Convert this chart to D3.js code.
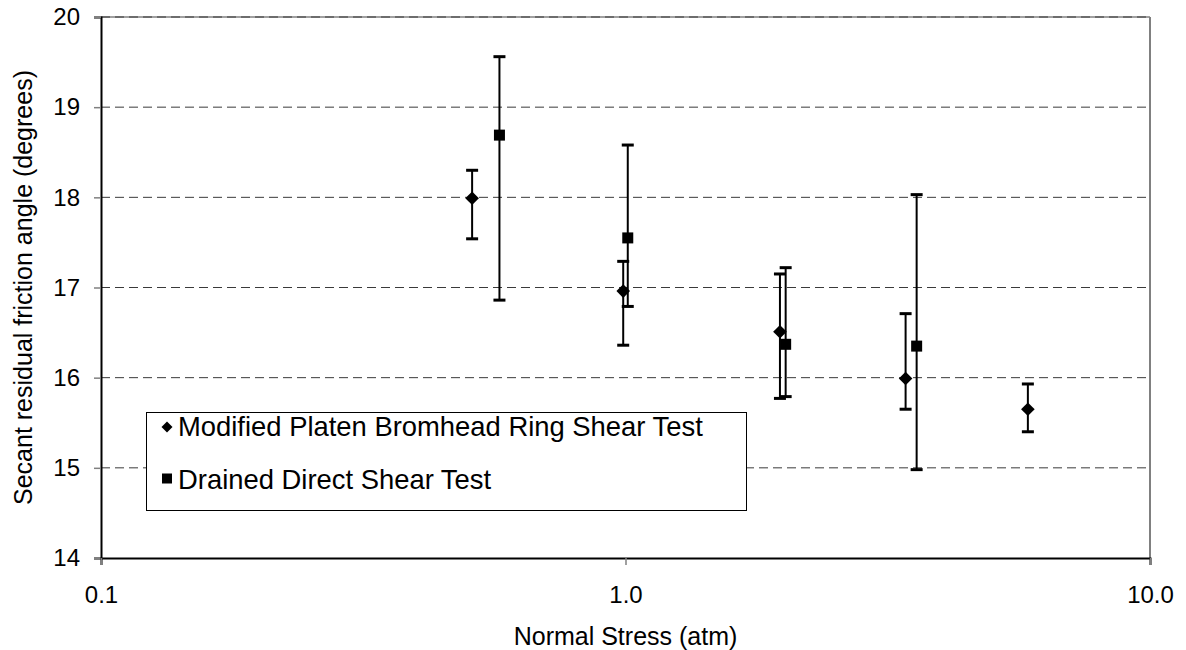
<!DOCTYPE html>
<html><head><meta charset="utf-8">
<script src="https://cdn.jsdelivr.net/npm/d3@7/dist/d3.min.js"></script>
<style>
body{margin:0;background:#fff;}
text{font-family:"Liberation Sans",Arial,sans-serif;fill:#000;}
</style></head>
<body><svg id="chart" width="1186" height="650"></svg>
<script>
// Modified Platen Bromhead Ring Shear Test
const ringX    = [0.51, 0.99, 1.97, 3.42, 5.85];
const ringY    = [17.99, 16.96, 16.51, 15.99, 15.65];
const ringHi   = [18.30, 17.29, 17.15, 16.71, 15.93];
const ringLo   = [17.54, 16.36, 15.77, 15.65, 15.40];
// Drained Direct Shear Test
const dsX      = [0.575, 1.01, 2.02, 3.59];
const dsY      = [18.69, 17.55, 16.37, 16.35];
const dsHi     = [19.56, 18.58, 17.22, 18.03];
const dsLo     = [16.86, 16.79, 15.79, 14.98];
const xTicks   = [0.1, 1, 10];
const yTicks   = [14, 15, 16, 17, 18, 19, 20];
const seriesNames = ["Modified Platen Bromhead Ring Shear Test", "Drained Direct Shear Test"];

const FONT = "Liberation Sans, Arial, sans-serif";
const svg = d3.select("#chart");
const L = 101, R = 1150, T = 17, B = 558;
const x = d3.scaleLog().domain([0.1, 10]).range([L, R]);
const y = d3.scaleLinear().domain([14, 20]).range([B, T]);

// frame right/top (gray)
svg.append("line").attr("x1", R).attr("x2", R).attr("y1", T).attr("y2", B)
  .attr("stroke", "#808080").attr("stroke-width", 2);
svg.append("line").attr("x1", L).attr("x2", R).attr("y1", T).attr("y2", T)
  .attr("stroke", "#808080").attr("stroke-width", 1.5);

// gridlines
svg.append("g").selectAll("line").data(yTicks.filter(d => d > 14)).join("line")
  .attr("x1", L).attr("x2", R).attr("y1", d => y(d)).attr("y2", d => y(d))
  .attr("stroke", "#3a3a3a").attr("stroke-width", 1).attr("stroke-dasharray", "9,5");

// axes
const yAxis = d3.axisLeft(y).tickValues(yTicks).tickSize(7).tickPadding(14).tickFormat(d3.format("d"));
const gy = svg.append("g").attr("transform", `translate(${L},0)`).call(yAxis);
gy.select(".domain").attr("stroke", "#000").attr("stroke-width", 2);
gy.selectAll(".tick line").attr("stroke", "#808080").attr("stroke-width", 1.5);
gy.selectAll(".tick text").attr("font-size", 24).attr("font-family", FONT);

const xAxis = d3.axisBottom(x).tickValues(xTicks).tickSize(7).tickPadding(21).tickFormat(d3.format(".1f"));
const gx = svg.append("g").attr("transform", `translate(0,${B})`).call(xAxis);
gx.select(".domain").attr("stroke", "#000").attr("stroke-width", 2);
gx.selectAll(".tick line").attr("stroke", "#808080").attr("stroke-width", 1.5);
gx.selectAll(".tick text").attr("font-size", 24).attr("font-family", FONT);

// titles
svg.append("text").attr("x", x(1)).attr("y", 645).attr("text-anchor", "middle")
  .attr("font-size", 25).text("Normal Stress (atm)");
svg.append("text").attr("transform", `translate(32,${(T + B) / 2}) rotate(-90)`).attr("text-anchor", "middle")
  .attr("font-size", 25).text("Secant residual friction angle (degrees)");

// error bars
function errBars(xs, ys, his, los) {
  const g = svg.append("g");
  const data = xs.map((d, i) => ({x: d, y: ys[i], hi: his[i], lo: los[i]}));
  g.selectAll("line.v").data(data).join("line").attr("class", "v")
    .attr("x1", d => x(d.x)).attr("x2", d => x(d.x)).attr("y1", d => y(d.hi)).attr("y2", d => y(d.lo))
    .attr("stroke", "#000").attr("stroke-width", 2);
  ["hi", "lo"].forEach(k => {
    g.selectAll("line." + k).data(data).join("line").attr("class", k)
      .attr("x1", d => x(d.x) - 6).attr("x2", d => x(d.x) + 6).attr("y1", d => y(d[k])).attr("y2", d => y(d[k]))
      .attr("stroke", "#000").attr("stroke-width", 3);
  });
  return data;
}
const rd = errBars(ringX, ringY, ringHi, ringLo);
const dd = errBars(dsX, dsY, dsHi, dsLo);

const diamondPath = s => `M0,${-s}L${s},0L0,${s}L${-s},0Z`;
svg.append("g").selectAll("path").data(rd).join("path")
  .attr("d", diamondPath(6.8))
  .attr("transform", d => `translate(${x(d.x)},${y(d.y)})`).attr("fill", "#000");
svg.append("g").selectAll("rect").data(dd).join("rect")
  .attr("x", d => x(d.x) - 5.5).attr("y", d => y(d.y) - 5.5).attr("width", 11).attr("height", 11).attr("fill", "#000");

// legend
const lg = svg.append("g");
lg.append("rect").attr("x", 146.5).attr("y", 412.5).attr("width", 600).attr("height", 98)
  .attr("fill", "#fff").attr("stroke", "#000").attr("stroke-width", 1);
lg.append("path").attr("d", diamondPath(5.5)).attr("transform", "translate(167,427)").attr("fill", "#000");
lg.append("rect").attr("x", 162).attr("y", 473.5).attr("width", 10).attr("height", 10).attr("fill", "#000");
lg.append("text").attr("x", 178).attr("y", 436).attr("font-size", 27.4).text(seriesNames[0]);
lg.append("text").attr("x", 178).attr("y", 489).attr("font-size", 27.4).text(seriesNames[1]);
</script></body></html>
